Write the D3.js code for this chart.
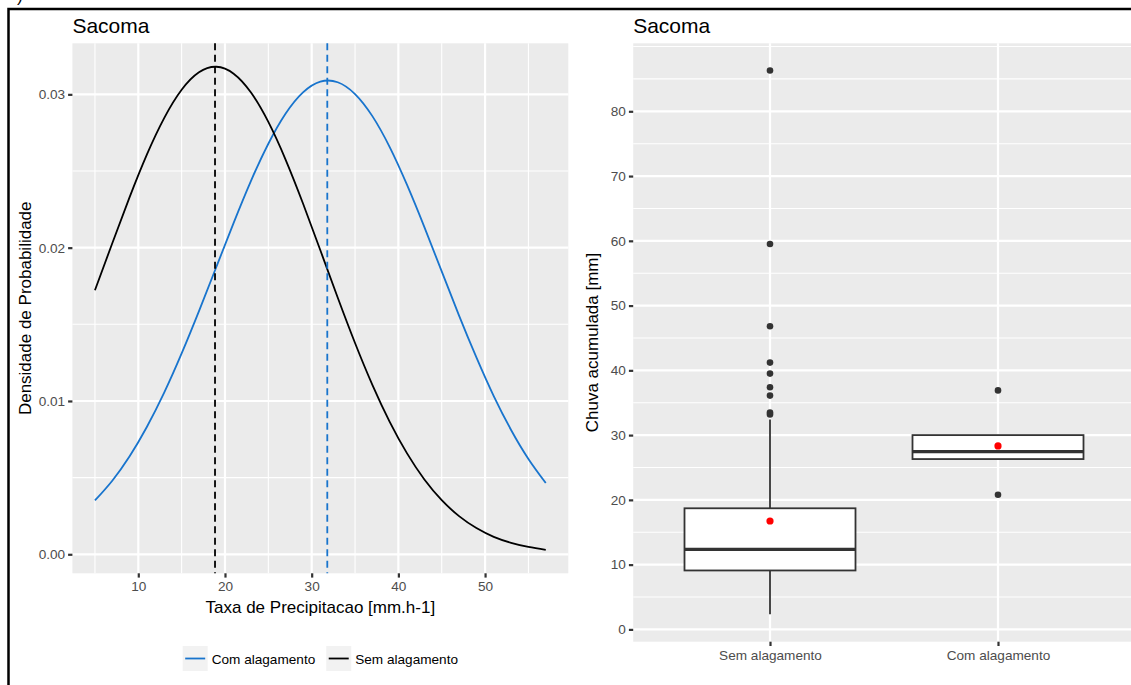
<!DOCTYPE html>
<html>
<head>
<meta charset="utf-8">
<script src="https://cdn.jsdelivr.net/npm/d3@7"></script>
<style>
  body { margin: 0; background: #fff; }
  svg { display: block; font-family: "Liberation Sans", Arial, sans-serif; }
</style>
</head>
<body>
<svg id="chart" width="1131" height="685"></svg>
<script>
// --- Left panel: density curves ---
const densityX = [5, 7, 9, 11, 13, 15, 17, 19, 21, 23, 25, 27, 29, 31, 33, 35, 37, 39, 41, 43, 45, 47, 49, 51, 53, 55, 57];
const comDensity = [0.00351, 0.00480, 0.00639, 0.00832, 0.01056, 0.01310, 0.01586, 0.01874, 0.02162, 0.02436, 0.02678, 0.02875, 0.03013, 0.03083,
  0.03079, 0.03002, 0.02858, 0.02656, 0.02409, 0.02134, 0.01845, 0.01557, 0.01284, 0.01032, 0.00811, 0.00622, 0.00465];
const semDensity = [0.01722, 0.02029, 0.02330, 0.02609, 0.02847, 0.03030, 0.03144, 0.03180, 0.03135, 0.03012, 0.02820, 0.02573, 0.02288, 0.01983,
  0.01675, 0.01378, 0.01105, 0.00864, 0.00658, 0.00488, 0.00353, 0.00249, 0.00171, 0.00114, 0.00075, 0.00048, 0.00029];
const comMean = 31.8;
const semMean = 18.85;

const leftXTicks = [10, 20, 30, 40, 50];
const leftXMinor = [5, 15, 25, 35, 45, 55];
const leftYTicks = [0, 0.01, 0.02, 0.03];
const leftYMinor = [0.005, 0.015, 0.025];
const legendLabels = ['Com alagamento', 'Sem alagamento'];

// --- Right panel: boxplot stats ---
const boxCategories = ['Sem alagamento', 'Com alagamento'];
const boxQ1 = [9.1, 26.3];
const boxMedian = [12.35, 27.45];
const boxQ3 = [18.7, 30.0];
const whiskerLow = [2.35, 26.3];
const whiskerHigh = [32.4, 30.0];
const boxMeans = [16.74, 28.33];
const semOutliers = [33.2, 33.5, 36.1, 37.4, 39.5, 41.2, 46.8, 59.5, 86.3];
const comOutliers = [20.8, 36.9];

const rightYTicks = [0, 10, 20, 30, 40, 50, 60, 70, 80];
const rightYMinor = [5, 15, 25, 35, 45, 55, 65, 75, 85, 90];

const BLUE = '#1874CD';
const PANEL = '#EBEBEB';
const TICK_TXT = '#4D4D4D';

const svg = d3.select('#chart');

// frame around the figure (cut by the image edge, as in the source)
svg.append('text').attr('x', 17).attr('y', 2).attr('font-size', 17).text(')');
svg.append('path')
  .attr('d', 'M8.5,685 V9 H1131')
  .attr('fill', 'none').attr('stroke', '#000').attr('stroke-width', 2.5);

// ggplot-ish axis look
function styleAxis(g) {
  g.select('.domain').remove();
  g.selectAll('.tick line').attr('stroke', '#333').attr('stroke-width', 2.2);
  g.selectAll('.tick text').attr('fill', TICK_TXT).attr('font-size', 13.6)
    .attr('font-family', '"Liberation Sans", Arial, sans-serif');
}

// ================= LEFT PANEL =================
const L = { x0: 72.4, x1: 568.3, y0: 43.3, y1: 573.3 };
const xL = d3.scaleLinear().domain([2.4, 59.6]).range([L.x0, L.x1]);
const yL = d3.scaleLinear().domain([-0.00124, 0.03333]).range([L.y1, L.y0]);

const left = svg.append('g');
left.append('rect').attr('x', L.x0).attr('y', L.y0)
  .attr('width', L.x1 - L.x0).attr('height', L.y1 - L.y0).attr('fill', PANEL);

left.selectAll('.gminx').data(leftXMinor).join('line')
  .attr('x1', d => xL(d)).attr('x2', d => xL(d)).attr('y1', L.y0).attr('y2', L.y1)
  .attr('stroke', '#fff').attr('stroke-width', 1.1);
left.selectAll('.gminy').data(leftYMinor).join('line')
  .attr('y1', d => yL(d)).attr('y2', d => yL(d)).attr('x1', L.x0).attr('x2', L.x1)
  .attr('stroke', '#fff').attr('stroke-width', 1.1);
left.selectAll('.gmajx').data(leftXTicks).join('line')
  .attr('x1', d => xL(d)).attr('x2', d => xL(d)).attr('y1', L.y0).attr('y2', L.y1)
  .attr('stroke', '#fff').attr('stroke-width', 2.2);
left.selectAll('.gmajy').data(leftYTicks).join('line')
  .attr('y1', d => yL(d)).attr('y2', d => yL(d)).attr('x1', L.x0).attr('x2', L.x1)
  .attr('stroke', '#fff').attr('stroke-width', 2.2);

const line = d3.line().x((d, i) => xL(densityX[i])).y(d => yL(d)).curve(d3.curveNatural);
left.append('path').datum(comDensity).attr('d', line)
  .attr('fill', 'none').attr('stroke', BLUE).attr('stroke-width', 1.8);
left.append('path').datum(semDensity).attr('d', line)
  .attr('fill', 'none').attr('stroke', '#000').attr('stroke-width', 1.8);

// mean lines
[[semMean, '#000'], [comMean, BLUE]].forEach(([m, c]) => {
  left.append('line')
    .attr('x1', xL(m)).attr('x2', xL(m)).attr('y1', L.y0).attr('y2', L.y1)
    .attr('stroke', c).attr('stroke-width', 1.8).attr('stroke-dasharray', '7,4.5');
});

left.append('g').attr('transform', `translate(0,${L.y1})`)
  .call(d3.axisBottom(xL).tickValues(leftXTicks).tickSize(4.3).tickPadding(4).tickFormat(d3.format('d')))
  .call(styleAxis);
left.append('g').attr('transform', `translate(${L.x0},0)`)
  .call(d3.axisLeft(yL).tickValues(leftYTicks).tickSize(4.3).tickPadding(3).tickFormat(d3.format('.2f')))
  .call(styleAxis);

left.append('text').attr('x', L.x0).attr('y', 33).attr('font-size', 21).text('Sacoma');
left.append('text').attr('x', (L.x0 + L.x1) / 2).attr('y', 613).attr('font-size', 17)
  .attr('text-anchor', 'middle').text('Taxa de Precipitacao [mm.h-1]');
left.append('text').attr('transform', `translate(31,${(L.y0 + L.y1) / 2}) rotate(-90)`)
  .attr('font-size', 17).attr('text-anchor', 'middle').text('Densidade de Probabilidade');

// legend
const legend = left.append('g');
const legendColors = [BLUE, '#000'];
let lx = 0;
legendLabels.forEach((lab, i) => {
  const item = legend.append('g').attr('transform', `translate(${lx},0)`);
  item.append('rect').attr('x', 0).attr('y', 0).attr('width', 25).attr('height', 25).attr('fill', '#F2F2F2');
  item.append('line').attr('x1', 2.5).attr('x2', 22.5).attr('y1', 12.5).attr('y2', 12.5)
    .attr('stroke', legendColors[i]).attr('stroke-width', 1.8);
  const t = item.append('text').attr('x', 29).attr('y', 17.5).attr('font-size', 13.6).text(lab);
  lx += 29 + t.node().getComputedTextLength() + 11;
});
const legW = lx - 11;
legend.attr('transform', `translate(${(L.x0 + L.x1) / 2 - legW / 2},646)`);

// ================= RIGHT PANEL =================
const R = { x0: 633.2, x1: 1134.8, y0: 43.3, y1: 641.7 };
const xR = d3.scalePoint().domain(boxCategories).range([770, 998]);
const step = xR(boxCategories[1]) - xR(boxCategories[0]);
const yR = d3.scaleLinear().domain([-1.9, 90.5]).range([R.y1, R.y0]);

const right = svg.append('g');
right.append('rect').attr('x', R.x0).attr('y', R.y0)
  .attr('width', R.x1 - R.x0).attr('height', R.y1 - R.y0).attr('fill', PANEL);
right.selectAll('.gminy').data(rightYMinor).join('line')
  .attr('y1', d => yR(d)).attr('y2', d => yR(d)).attr('x1', R.x0).attr('x2', R.x1)
  .attr('stroke', '#fff').attr('stroke-width', 1.1);
right.selectAll('.gmajy').data(rightYTicks).join('line')
  .attr('y1', d => yR(d)).attr('y2', d => yR(d)).attr('x1', R.x0).attr('x2', R.x1)
  .attr('stroke', '#fff').attr('stroke-width', 2.2);
right.selectAll('.gmajx').data(boxCategories).join('line')
  .attr('x1', d => xR(d)).attr('x2', d => xR(d)).attr('y1', R.y0).attr('y2', R.y1)
  .attr('stroke', '#fff').attr('stroke-width', 2.2);

const boxW = step * 0.75;
boxCategories.forEach((cat, i) => {
  const cx = xR(cat);
  const g = right.append('g');
  if (whiskerHigh[i] > boxQ3[i]) {
    g.append('line').attr('x1', cx).attr('x2', cx).attr('y1', yR(boxQ3[i])).attr('y2', yR(whiskerHigh[i]))
      .attr('stroke', '#333').attr('stroke-width', 1.8);
  }
  if (whiskerLow[i] < boxQ1[i]) {
    g.append('line').attr('x1', cx).attr('x2', cx).attr('y1', yR(boxQ1[i])).attr('y2', yR(whiskerLow[i]))
      .attr('stroke', '#333').attr('stroke-width', 1.8);
  }
  g.append('rect').attr('x', cx - boxW / 2).attr('width', boxW)
    .attr('y', yR(boxQ3[i])).attr('height', yR(boxQ1[i]) - yR(boxQ3[i]))
    .attr('fill', '#fff').attr('stroke', '#333').attr('stroke-width', 1.8);
  g.append('line').attr('x1', cx - boxW / 2).attr('x2', cx + boxW / 2)
    .attr('y1', yR(boxMedian[i])).attr('y2', yR(boxMedian[i]))
    .attr('stroke', '#333').attr('stroke-width', 3.4);
  const outs = i === 0 ? semOutliers : comOutliers;
  g.selectAll('circle.out').data(outs).join('circle')
    .attr('cx', cx).attr('cy', d => yR(d)).attr('r', 3.3).attr('fill', '#333');
  g.append('circle').attr('cx', cx).attr('cy', yR(boxMeans[i])).attr('r', 3.6).attr('fill', '#FF0000');
});

right.append('g').attr('transform', `translate(0,${R.y1})`)
  .call(d3.axisBottom(xR).tickSize(4.3).tickPadding(4))
  .call(styleAxis);
right.append('g').attr('transform', `translate(${R.x0},0)`)
  .call(d3.axisLeft(yR).tickValues(rightYTicks).tickSize(4.3).tickPadding(3))
  .call(styleAxis);

right.append('text').attr('x', R.x0).attr('y', 33).attr('font-size', 21).text('Sacoma');
right.append('text').attr('transform', `translate(598,${(R.y0 + R.y1) / 2}) rotate(-90)`)
  .attr('font-size', 17).attr('text-anchor', 'middle').text('Chuva acumulada [mm]');
</script>
</body>
</html>
